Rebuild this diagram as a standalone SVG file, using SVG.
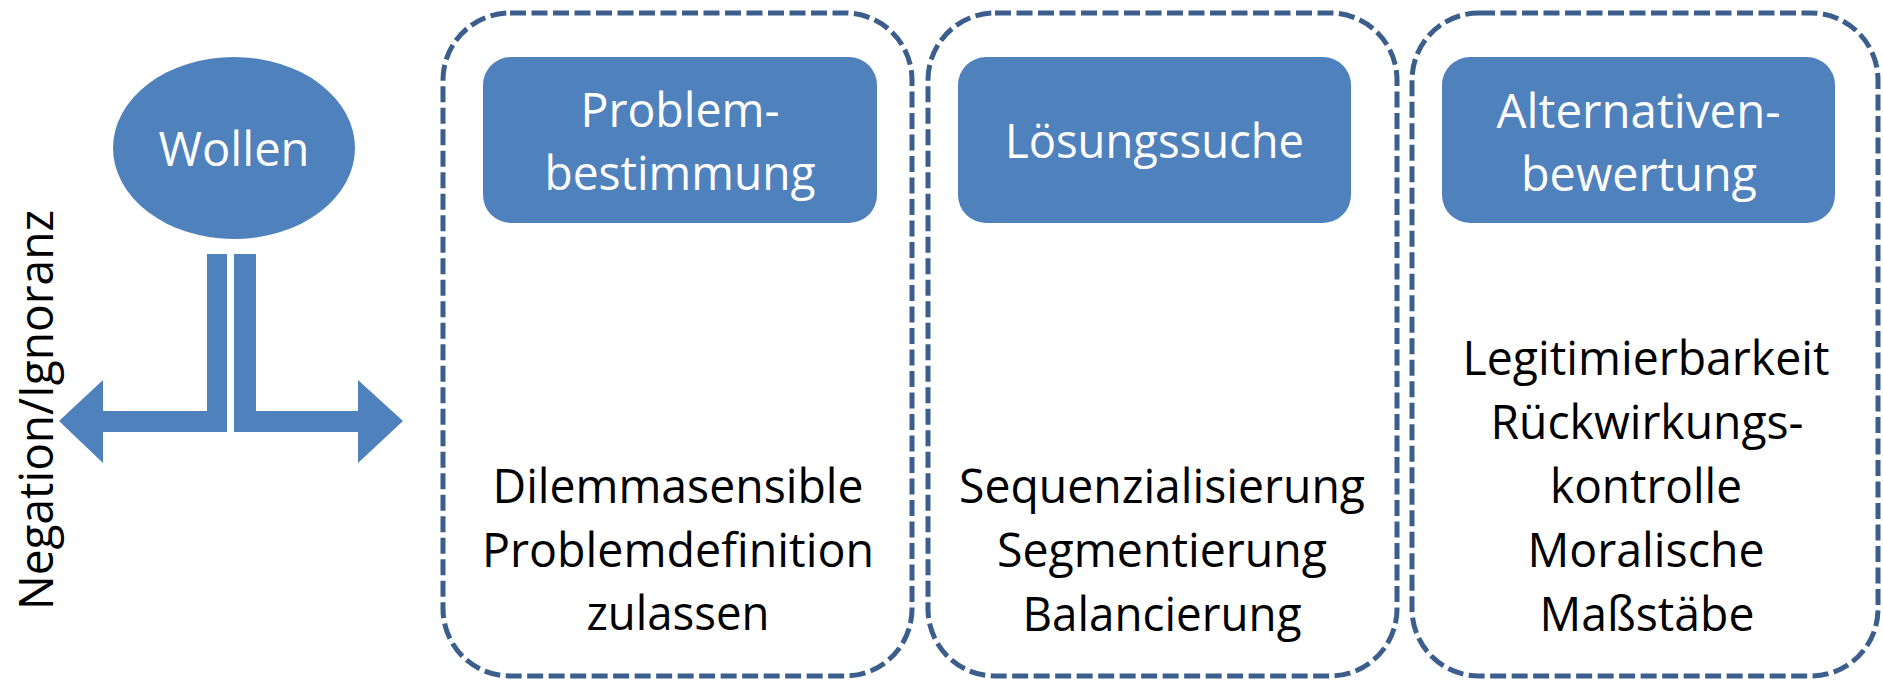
<svg xmlns="http://www.w3.org/2000/svg" width="1883" height="680" viewBox="0 0 1883 680">
<style>
.t{font-family:"Open Sans","Noto Sans","Liberation Sans",sans-serif;font-size:47px;text-anchor:middle}
.w{fill:#ffffff}
.k{fill:#000000}
.frame{fill:none;stroke:#3B5E8C;stroke-width:5;stroke-dasharray:16 5.5}
.hdr{fill:#4F81BD}
</style>
<rect width="1883" height="680" fill="#ffffff"/>
<g id="wollen">
<ellipse cx="234" cy="148" rx="121" ry="91" fill="#4F81BD"/>
<text class="t w" x="234" y="166" textLength="151" lengthAdjust="spacingAndGlyphs">Wollen</text>
</g>
<g id="connectors">
<polygon fill="#4F81BD" points="207,254 227,254 227,432 103,432 103,463 59,421 103,380 103,411 207,411"/>
<polygon fill="#4F81BD" points="234,254 256,254 256,411 358,411 358,380 403,421 358,463 358,432 234,432"/>
</g>
<g id="negation">
<text class="t k" transform="translate(53,410) rotate(-90)" x="0" y="0" textLength="400" lengthAdjust="spacingAndGlyphs">Negation/Ignoranz</text>
</g>
<g id="problembestimmung">
<rect class="frame" x="443" y="13" width="469" height="663" rx="67" ry="67"/>
<rect class="hdr" x="483" y="57" width="394" height="166" rx="28" ry="28"/>
<text class="t w" x="680" y="127" textLength="199" lengthAdjust="spacingAndGlyphs">Problem-</text>
<text class="t w" x="680" y="190" textLength="271" lengthAdjust="spacingAndGlyphs">bestimmung</text>
<text class="t k" x="678" y="503" textLength="371" lengthAdjust="spacingAndGlyphs">Dilemmasensible</text>
<text class="t k" x="678" y="567" textLength="392" lengthAdjust="spacingAndGlyphs">Problemdefinition</text>
<text class="t k" x="678" y="630" textLength="183" lengthAdjust="spacingAndGlyphs">zulassen</text>
</g>
<g id="loesungssuche">
<rect class="frame" x="928" y="13" width="469" height="663" rx="67" ry="67"/>
<rect class="hdr" x="958" y="57" width="393" height="166" rx="28" ry="28"/>
<text class="t w" x="1154.5" y="158" textLength="299" lengthAdjust="spacingAndGlyphs">Lösungssuche</text>
<text class="t k" x="1162" y="503" textLength="406" lengthAdjust="spacingAndGlyphs">Sequenzialisierung</text>
<text class="t k" x="1162" y="567" textLength="330" lengthAdjust="spacingAndGlyphs">Segmentierung</text>
<text class="t k" x="1162" y="631" textLength="279" lengthAdjust="spacingAndGlyphs">Balancierung</text>
</g>
<g id="alternativenbewertung">
<rect class="frame" x="1412" y="13" width="466" height="663" rx="67" ry="67"/>
<rect class="hdr" x="1442" y="57" width="393" height="166" rx="28" ry="28"/>
<text class="t w" x="1638.5" y="128" textLength="284" lengthAdjust="spacingAndGlyphs">Alternativen-</text>
<text class="t w" x="1639" y="191" textLength="236" lengthAdjust="spacingAndGlyphs">bewertung</text>
<text class="t k" x="1646" y="375" textLength="367" lengthAdjust="spacingAndGlyphs">Legitimierbarkeit</text>
<text class="t k" x="1647" y="439" textLength="313" lengthAdjust="spacingAndGlyphs">Rückwirkungs-</text>
<text class="t k" x="1646" y="503" textLength="192" lengthAdjust="spacingAndGlyphs">kontrolle</text>
<text class="t k" x="1646" y="567" textLength="237" lengthAdjust="spacingAndGlyphs">Moralische</text>
<text class="t k" x="1647" y="631" textLength="215" lengthAdjust="spacingAndGlyphs">Maßstäbe</text>
</g>
</svg>
